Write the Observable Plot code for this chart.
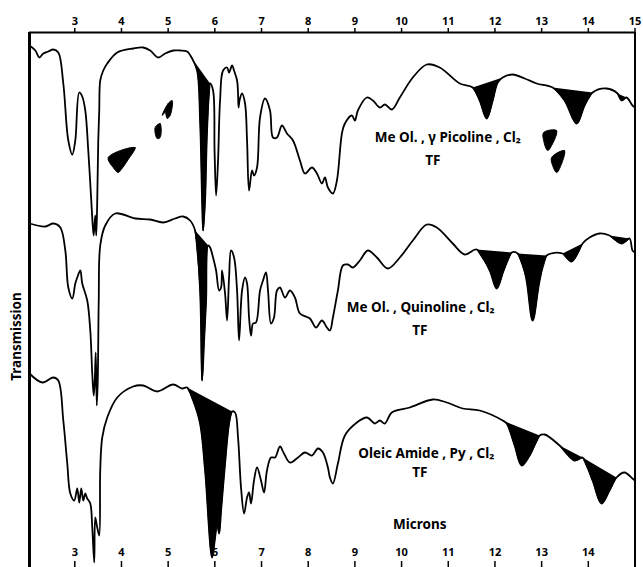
<!DOCTYPE html>
<html><head><meta charset="utf-8">
<script src="https://cdn.jsdelivr.net/npm/d3@7"></script>
<script src="https://cdn.jsdelivr.net/npm/@observablehq/plot@0.6"></script>
<style>html,body{margin:0;padding:0;background:#fff;}</style>
</head><body><div id="chart"></div>
<script>
// wavelength (microns) tick labels
const topTicks = [3,4,5,6,7,8,9,10,11,12,13,14,15];
const bottomTicks = [3,4,5,6,7,8,9,10,11,12,13,14];
const xDomain = [2.03, 15];
const yDomain = [0, 535]; // transmission, arbitrary offset units

// Spectrum A: MeOl., gamma-picoline, Cl2  [micron, transmission]
const spectrumA = [[2.03,522],[2.155,517],[2.241,510],[2.326,514],[2.433,516],[2.54,518],[2.647,515],[2.754,484],[2.861,427],[2.947,413],[3.011,427],[3.096,475],[3.16,471],[3.225,457],[3.289,417],[3.353,367],[3.385,342],[3.406,332],[3.438,352],[3.46,332],[3.481,367],[3.503,427],[3.524,457],[3.545,487],[3.61,497],[3.695,504],[3.909,515],[4.251,519],[4.465,520],[4.615,517],[4.786,510],[4.936,514],[5.107,517],[5.257,517],[5.406,516],[5.513,509],[5.62,497],[5.684,447],[5.727,367],[5.749,337],[5.791,367],[5.834,437],[5.898,484],[5.962,477],[5.994,417],[6.027,372],[6.069,407],[6.112,467],[6.176,497],[6.262,500],[6.305,495],[6.369,502],[6.412,497],[6.476,487],[6.497,474],[6.508,460],[6.529,467],[6.583,474],[6.647,464],[6.69,427],[6.733,377],[6.797,397],[6.839,392],[6.904,400],[6.968,450],[7.075,469],[7.182,457],[7.246,430],[7.331,430],[7.438,442],[7.545,434],[7.674,427],[7.823,407],[7.93,394],[8.08,400],[8.187,394],[8.294,384],[8.358,390],[8.422,380],[8.529,374],[8.615,387],[8.722,434],[8.786,444],[8.936,452],[9.0,447],[9.064,457],[9.257,470],[9.385,467],[9.535,460],[9.642,463],[9.791,458],[9.963,470],[10.241,490],[10.54,503],[10.818,500],[11.246,484],[11.524,480],[11.673,467],[11.823,449],[11.952,467],[12.059,485],[12.166,490],[12.379,493],[12.636,489],[12.893,484],[13.235,480],[13.492,467],[13.749,444],[13.92,462],[14.091,475],[14.39,479],[14.626,474],[14.711,467],[14.818,470],[14.946,462],[15.0,460]];
const fillsA = [[5.513,5.898],[11.524,12.166],[13.235,14.091],[14.626,14.818]];

// Spectrum B: MeOl., quinoline, Cl2
const spectrumB = [[2.03,344],[2.369,341],[2.54,344],[2.69,340],[2.797,317],[2.861,280],[2.947,269],[3.011,284],[3.053,290],[3.118,297],[3.16,284],[3.267,267],[3.332,237],[3.374,194],[3.406,172],[3.428,187],[3.449,215],[3.471,162],[3.492,187],[3.513,267],[3.545,322],[3.652,342],[3.866,354],[4.294,349],[4.615,348],[4.893,345],[5.15,349],[5.321,351],[5.47,347],[5.577,337],[5.684,277],[5.727,187],[5.77,227],[5.813,267],[5.855,322],[5.898,320],[5.962,310],[6.027,297],[6.091,277],[6.134,280],[6.155,297],[6.219,274],[6.262,247],[6.305,290],[6.347,317],[6.412,310],[6.476,277],[6.519,227],[6.583,277],[6.647,290],[6.69,284],[6.733,250],[6.775,232],[6.818,244],[6.882,245],[6.968,277],[7.032,287],[7.096,295],[7.139,277],[7.203,244],[7.267,250],[7.331,277],[7.395,280],[7.502,270],[7.609,277],[7.716,270],[7.823,254],[8.037,249],[8.166,240],[8.294,247],[8.401,240],[8.465,237],[8.529,250],[8.636,277],[8.743,302],[8.85,303],[8.957,300],[9.107,307],[9.278,317],[9.471,310],[9.706,299],[9.963,310],[10.241,327],[10.54,343],[10.754,340],[11.096,324],[11.353,313],[11.609,318],[11.888,297],[12.037,279],[12.187,297],[12.358,315],[12.487,314],[12.657,292],[12.807,247],[12.957,287],[13.107,312],[13.449,314],[13.642,306],[13.877,324],[14.027,330],[14.24,334],[14.454,332],[14.711,324],[14.882,329],[14.946,317],[15.0,315]];
const fillsB = [[5.577,5.898],[11.609,12.358],[12.487,13.107],[13.449,13.877],[14.454,14.882]];

// Spectrum C: oleic amide, Py, Cl2
const spectrumC = [[2.03,194],[2.305,185],[2.54,190],[2.647,187],[2.754,147],[2.839,104],[2.904,74],[2.989,67],[3.053,79],[3.096,65],[3.139,79],[3.182,67],[3.225,74],[3.267,69],[3.332,64],[3.374,40],[3.417,5],[3.438,50],[3.481,40],[3.524,32],[3.545,97],[3.588,130],[3.695,150],[3.909,170],[4.251,181],[4.465,182],[4.765,176],[5.107,183],[5.299,179],[5.406,180],[5.535,167],[5.684,144],[5.791,97],[5.941,10],[6.005,30],[6.048,44],[6.091,34],[6.134,57],[6.219,104],[6.305,144],[6.369,156],[6.433,155],[6.497,130],[6.561,80],[6.626,54],[6.69,70],[6.733,75],[6.775,64],[6.839,87],[6.904,100],[6.989,87],[7.054,75],[7.117,97],[7.203,110],[7.289,110],[7.395,121],[7.481,114],[7.609,105],[7.781,110],[7.93,115],[8.08,112],[8.209,119],[8.315,115],[8.422,100],[8.465,90],[8.529,84],[8.636,104],[8.786,132],[9.043,145],[9.257,150],[9.428,144],[9.535,147],[9.642,144],[9.791,155],[10.176,160],[10.668,168],[10.968,165],[11.31,159],[11.673,157],[12.166,147],[12.251,144],[12.422,122],[12.572,102],[12.743,112],[12.957,132],[13.064,133],[13.385,122],[13.706,107],[13.877,110],[14.091,87],[14.283,64],[14.454,77],[14.604,90],[14.775,95],[14.946,89],[15.0,87]];
const fillsC = [[5.406,6.369],[12.166,12.957],[13.385,13.877],[13.877,14.604]];

// overlay fragments (partial traces drawn as solid patches)
const patches = [
  [[3.716,410],[4.294,420],[4.144,408],[3.995,398],[3.93,395],[3.823,400]],
  [[4.722,440],[4.829,444],[4.829,430],[4.765,429]],
  [[4.872,452],[5.0,464],[5.086,467],[5.043,452],[4.979,449],[4.936,455]],
  [[13.043,435],[13.321,437],[13.214,422],[13.129,417],[13.043,427]],
  [[13.214,410],[13.492,417],[13.385,399],[13.321,395],[13.235,402]]
];

// sample labels (main text + subscript)
const annotations = [
  {m:10.99, t:430, text:"Me Ol. , γ Picoline , Cl₂"},
  {m:10.67, t:407, text:"TF"},
  {m:10.41, t:260, text:"Me Ol. , Quinoline , Cl₂"},
  {m:10.39, t:237, text:"TF"},
  {m:10.53, t:114, text:"Oleic Amide , Py , Cl₂"},
  {m:10.39, t:95,  text:"TF"},
  {m:10.39, t:43,  text:"Microns"}
];

const rows = arr => arr.map(([m,t]) => ({m, t}));
const fillMarks = (spec, ranges) => ranges.map(([lo,hi]) =>
  Plot.line(rows(spec).filter(d => d.m >= lo - 1e-6 && d.m <= hi + 1e-6),
    {x:"m", y:"t", fill:"black", stroke:"black", strokeWidth:1, curve:"catmull-rom"}));

const FONT = "'Noto Sans', 'Liberation Sans', Arial, sans-serif";

const chart = Plot.plot({
  width: 643, height: 567,
  marginLeft: 29, marginRight: 8.5, marginTop: 32, marginBottom: 0,
  x: {domain: xDomain},
  y: {domain: yDomain, axis: null},
  style: {fontFamily: FONT, fontWeight: "bold", background: "white", color: "black"},
  marks: [
    Plot.axisX({anchor: "top", ticks: topTicks, tickFormat: d => String(d), tickSize: 5, tickPadding: 3, label: null, fontSize: 11, fontWeight: "bold", strokeWidth: 1.5}),
    Plot.tickX(bottomTicks, {x: d => d, insetTop: 529, strokeWidth: 1.5}),
    Plot.text(bottomTicks, {x: d => d, frameAnchor: "bottom", dy: -12, text: d => String(d), fontSize: 11, fontWeight: "bold"}),
    Plot.ruleY([yDomain[1]], {strokeWidth: 2}),
    Plot.ruleX([xDomain[0]], {strokeWidth: 3}),
    Plot.ruleX([xDomain[1]], {strokeWidth: 2}),
    ...fillMarks(spectrumA, fillsA),
    ...fillMarks(spectrumB, fillsB),
    ...fillMarks(spectrumC, fillsC),
    ...patches.map(p => Plot.line(rows(p), {x:"m", y:"t", fill:"black", stroke:"black", strokeWidth:1, curve:"catmull-rom-closed"})),
    Plot.line(rows(spectrumA), {x:"m", y:"t", stroke:"black", strokeWidth:1.8, curve:"catmull-rom"}),
    Plot.line(rows(spectrumB), {x:"m", y:"t", stroke:"black", strokeWidth:1.8, curve:"catmull-rom"}),
    Plot.line(rows(spectrumC), {x:"m", y:"t", stroke:"black", strokeWidth:1.8, curve:"catmull-rom"}),
    Plot.text(annotations, {x:"m", y:"t", text:"text", fontSize: 13.5, fontWeight: "bold"}),
    Plot.text(["Transmission"], {x: () => xDomain[0], y: () => 231, dx: -13, rotate: -90, fontSize: 13.5, fontWeight: "bold"})
  ]
});
document.getElementById("chart").appendChild(chart);
</script>
</body></html>
